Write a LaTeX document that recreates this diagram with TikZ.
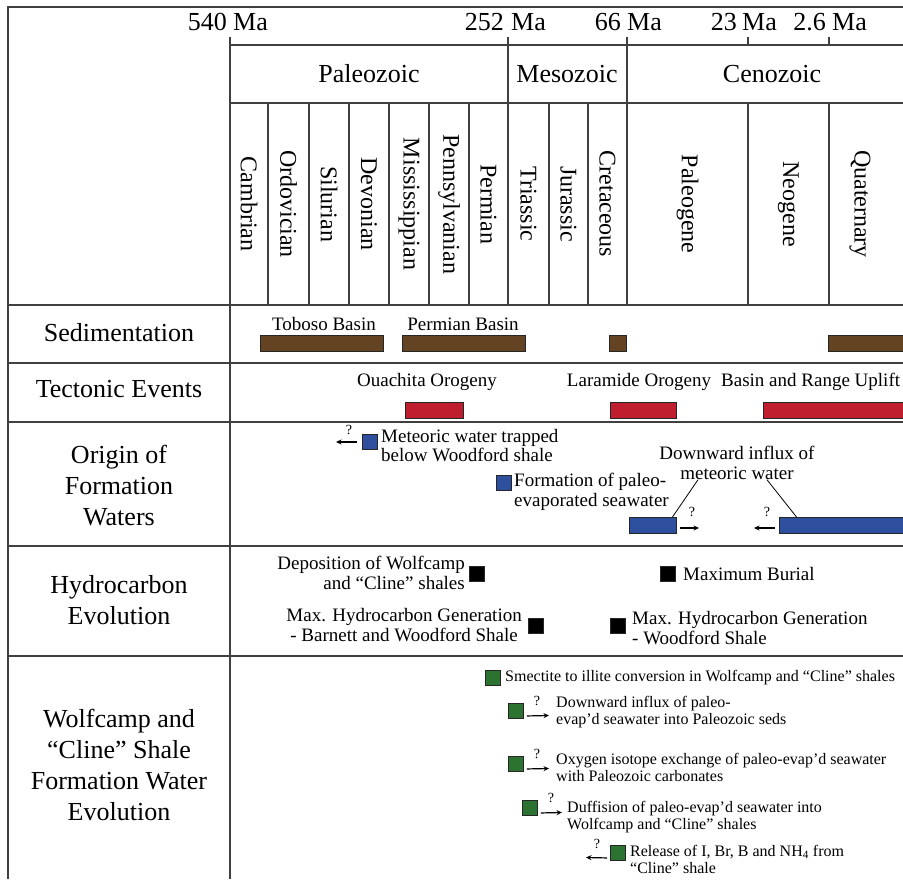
\documentclass[tikz,border=0pt]{standalone}
\usepackage{fontspec}
\setmainfont{Liberation Serif}
\usetikzlibrary{arrows.meta, positioning}
\definecolor{sedbrown}{HTML}{634321}
\definecolor{tecred}{HTML}{BE1E2D}
\definecolor{watblue}{HTML}{2E4E9E}
\definecolor{evogreen}{HTML}{2C7332}
\definecolor{rulegray}{HTML}{404040}
\tikzset{
    rule/.style = {draw=rulegray, line width=1.4pt},
    thinrule/.style = {draw=rulegray, line width=1.1pt},
    big/.style = {font=\fontsize{26}{31}\selectfont, align=center, inner sep=0pt},
    period/.style = {font=\fontsize{24}{24}\selectfont, rotate=-90, inner sep=0pt},
    note/.style = {font=\fontsize{19}{19.5}\selectfont, align=left, inner sep=0pt},
    small/.style = {font=\fontsize{16}{17}\selectfont, align=left, inner sep=0pt},
    qm/.style = {font=\fontsize{14}{14}\selectfont, inner sep=0pt},
    bar/.style = {draw=black!85, line width=0.9pt, fill=#1, inner sep=0pt, minimum height=16pt},
    sq/.style = {draw=black!85, line width=0.9pt, fill=#1, inner sep=0pt, minimum size=15pt},
    qarr/.style = {-{Stealth[length=5.5pt, width=5pt]}, line width=1.2pt}
}

\begin{document}
\begin{tikzpicture}[x=1pt, y=-1pt]
    \useasboundingbox (0,0) rectangle (903,879);
    \draw[rule] (8,879) -- (8,7) -- (903,7);
    \draw[rule] (230,37) -- (230,879);
    \draw[rule] (230,45) -- (903,45);
    \draw[rule] (230,103) -- (903,103);
    \foreach \y in {305,363,422,546,656}
        \draw[rule] (8,\y) -- (903,\y);
    \foreach \x in {508,627}
        \draw[rule] (\x,37) -- (\x,305);
    \foreach \x in {748,829}
        \draw[rule] (\x,37) -- (\x,45) (\x,103) -- (\x,305);
    \foreach \x in {268,309,349,389,429,469,549,588}
        \draw[thinrule] (\x,103) -- (\x,305);

    \node[big, anchor=base east] (n540) at (227,30) {540};
    \node[big, anchor=base west] (m540) at (233,30) {Ma};
    \node[big, anchor=base east] (n252) at (504,30) {252};
    \node[big, anchor=base west] (m252) at (511,30) {Ma};
    \node[big, anchor=base east] (n66) at (621,30) {66};
    \node[big, anchor=base west] (m66) at (627,30) {Ma};
    \node[big, anchor=base east] (n23) at (737,30) {23};
    \node[big, anchor=base west] (m23) at (742,30) {Ma};
    \node[big, anchor=base east] (n26) at (826,30) {2.6};
    \node[big, anchor=base west] (m26) at (832,30) {Ma};

    \node[big] (paleo) at (369,74) {Paleozoic};
    \node[big] (meso) at (567,74) {Mesozoic};
    \node[big] (ceno) at (772,74) {Cenozoic};
    \foreach \name/\x in {Cambrian/249, Ordovician/288.5, Silurian/329, Devonian/369,
        Mississippian/409, Pennsylvanian/449, Permian/488.5, Triassic/528.5, Jurassic/568.5,
        Cretaceous/607.5, Paleogene/687.5, Neogene/788.5, Quaternary/860}
        \node[period] (\name) at (\x,204) {\name};

    \node[big] (sed) at (119,333) {Sedimentation};
    \node[big] (tec) at (119,389) {Tectonic Events};
    \node[big] (orig) at (119,486) {Origin of\\Formation\\Waters};
    \node[big] (hyd) at (119,600) {Hydrocarbon\\Evolution};
    \node[big] (wolf) at (119,765) {Wolfcamp and\\“Cline” Shale\\Formation Water\\Evolution};

    \node[note] (toboso) at (324,324) {Toboso Basin};
    \node[bar=sedbrown, minimum width=123pt] (tobosoBar) at (321.5,343.5) {};
    \node[note] (permian) at (463,324) {Permian Basin};
    \node[bar=sedbrown, minimum width=123pt] (permianBar) at (463.5,343.5) {};
    \node[bar=sedbrown, minimum width=17pt] (cretBar) at (617.5,343.5) {};
    \node[bar=sedbrown, minimum width=90pt] (quatBar) at (873,343.5) {};

    \node[note] (ouachita) at (427,382) {Ouachita Orogeny};
    \node[bar=tecred, minimum width=58pt] (ouachitaBar) at (434.5,410.5) {};
    \node[note] (laramide) at (639,382) {Laramide Orogeny};
    \node[bar=tecred, minimum width=66pt] (laramideBar) at (643,410.5) {};
    \node[note, anchor=west] (basin) at (721,382) {Basin and Range Uplift};
    \node[bar=tecred, minimum width=152pt] (basinBar) at (839,410.5) {};

    \node[sq=watblue] (metSq) at (370,442) {};
    \node[note, anchor=north west] (metTxt) at (381,429) {Meteoric water trapped\\below Woodford shale};
    \coordinate (metEnd) at (336,442);
    \draw[qarr] ([xshift=-5pt]metSq.west) -- (metEnd);
    \node[qm] (metQ) at (349,430) {?};
    \node[sq=watblue] (formSq) at (503.5,482.5) {};
    \node[note, anchor=north west] (formTxt) at (514,473) {Formation of paleo-\\evaporated seawater};
    \node[note, align=center] (dwnTxt) at (737,463) {Downward influx of\\meteoric water};
    \node[bar=watblue, minimum width=47pt] (blueA) at (652.5,525.5) {};
    \node[bar=watblue, minimum width=136pt] (blueB) at (847,525.5) {};
    \coordinate (blueAEnd) at (699,528);
    \coordinate (blueBEnd) at (754,528);
    \draw[qarr] ([xshift=4pt]blueA.east |- blueAEnd) -- (blueAEnd);
    \draw[qarr] ([xshift=-4pt]blueB.west |- blueBEnd) -- (blueBEnd);
    \node[qm] (blueAQ) at (692,512) {?};
    \node[qm] (blueBQ) at (767,512) {?};
    \draw[line width=0.8pt] ([xshift=-39pt]dwnTxt.south) -- ([xshift=-4pt]blueA.north east);
    \draw[line width=0.8pt] ([xshift=30pt]dwnTxt.south) -- ([xshift=18pt]blueB.north west);

    \node[note, align=right, anchor=east] (depTxt) at (465,573) {Deposition of Wolfcamp\\and “Cline” shales};
    \node[sq=black] (depSq) at (477,574) {};
    \node[sq=black] (burSq) at (668,574) {};
    \node[note, anchor=west] (burTxt) at (683,574) {Maximum Burial};
    \node[note, align=center, anchor=east] (hcTxtA) at (522,625) {Max. Hydrocarbon Generation\\- Barnett and Woodford Shale};
    \node[sq=black] (hcSqA) at (536,626) {};
    \node[sq=black] (hcSqB) at (618,626) {};
    \node[note, anchor=west] (hcTxtB) at (632,628) {Max. Hydrocarbon Generation\\- Woodford Shale};

    \node[sq=evogreen] (smSq) at (493,678) {};
    \node[small, anchor=west] (smTxt) at (505,678) {Smectite to illite conversion in Wolfcamp and “Cline” shales};
    \node[sq=evogreen] (dSq) at (516,711) {};
    \coordinate (dEnd) at (549,715.5);
    \draw[qarr] ([shift={(3,-3)}]dSq.south east) -- (dEnd);
    \node[qm] (dQ) at (537,701) {?};
    \node[small, anchor=west] (dTxt) at (556,712) {Downward influx of paleo-\\evap’d seawater into Paleozoic seds};
    \node[sq=evogreen] (oSq) at (516,764) {};
    \coordinate (oEnd) at (549,768.5);
    \draw[qarr] ([shift={(3,-3)}]oSq.south east) -- (oEnd);
    \node[qm] (oQ) at (537,754) {?};
    \node[small, anchor=west] (oTxt) at (556,767) {Oxygen isotope exchange of paleo-evap’d seawater\\with Paleozoic carbonates};
    \node[sq=evogreen] (fSq) at (530,808) {};
    \coordinate (fEnd) at (562,812.5);
    \draw[qarr] ([shift={(3,-3)}]fSq.south east) -- (fEnd);
    \node[qm] (fQ) at (551,798) {?};
    \node[small, anchor=west] (fTxt) at (567,817) {Duffision of paleo-evap’d seawater into\\Wolfcamp and “Cline” shales};
    \node[sq=evogreen] (rSq) at (618,853) {};
    \coordinate (rEnd) at (586,857.5);
    \draw[qarr] ([shift={(-3,-3)}]rSq.south west) -- (rEnd);
    \node[qm] (rQ) at (597,844) {?};
    \node[small, anchor=west] (rTxt) at (630,859) {Release of I, Br, B and NH\textsubscript{4} from\\“Cline” shale};
\end{tikzpicture}
\end{document}
